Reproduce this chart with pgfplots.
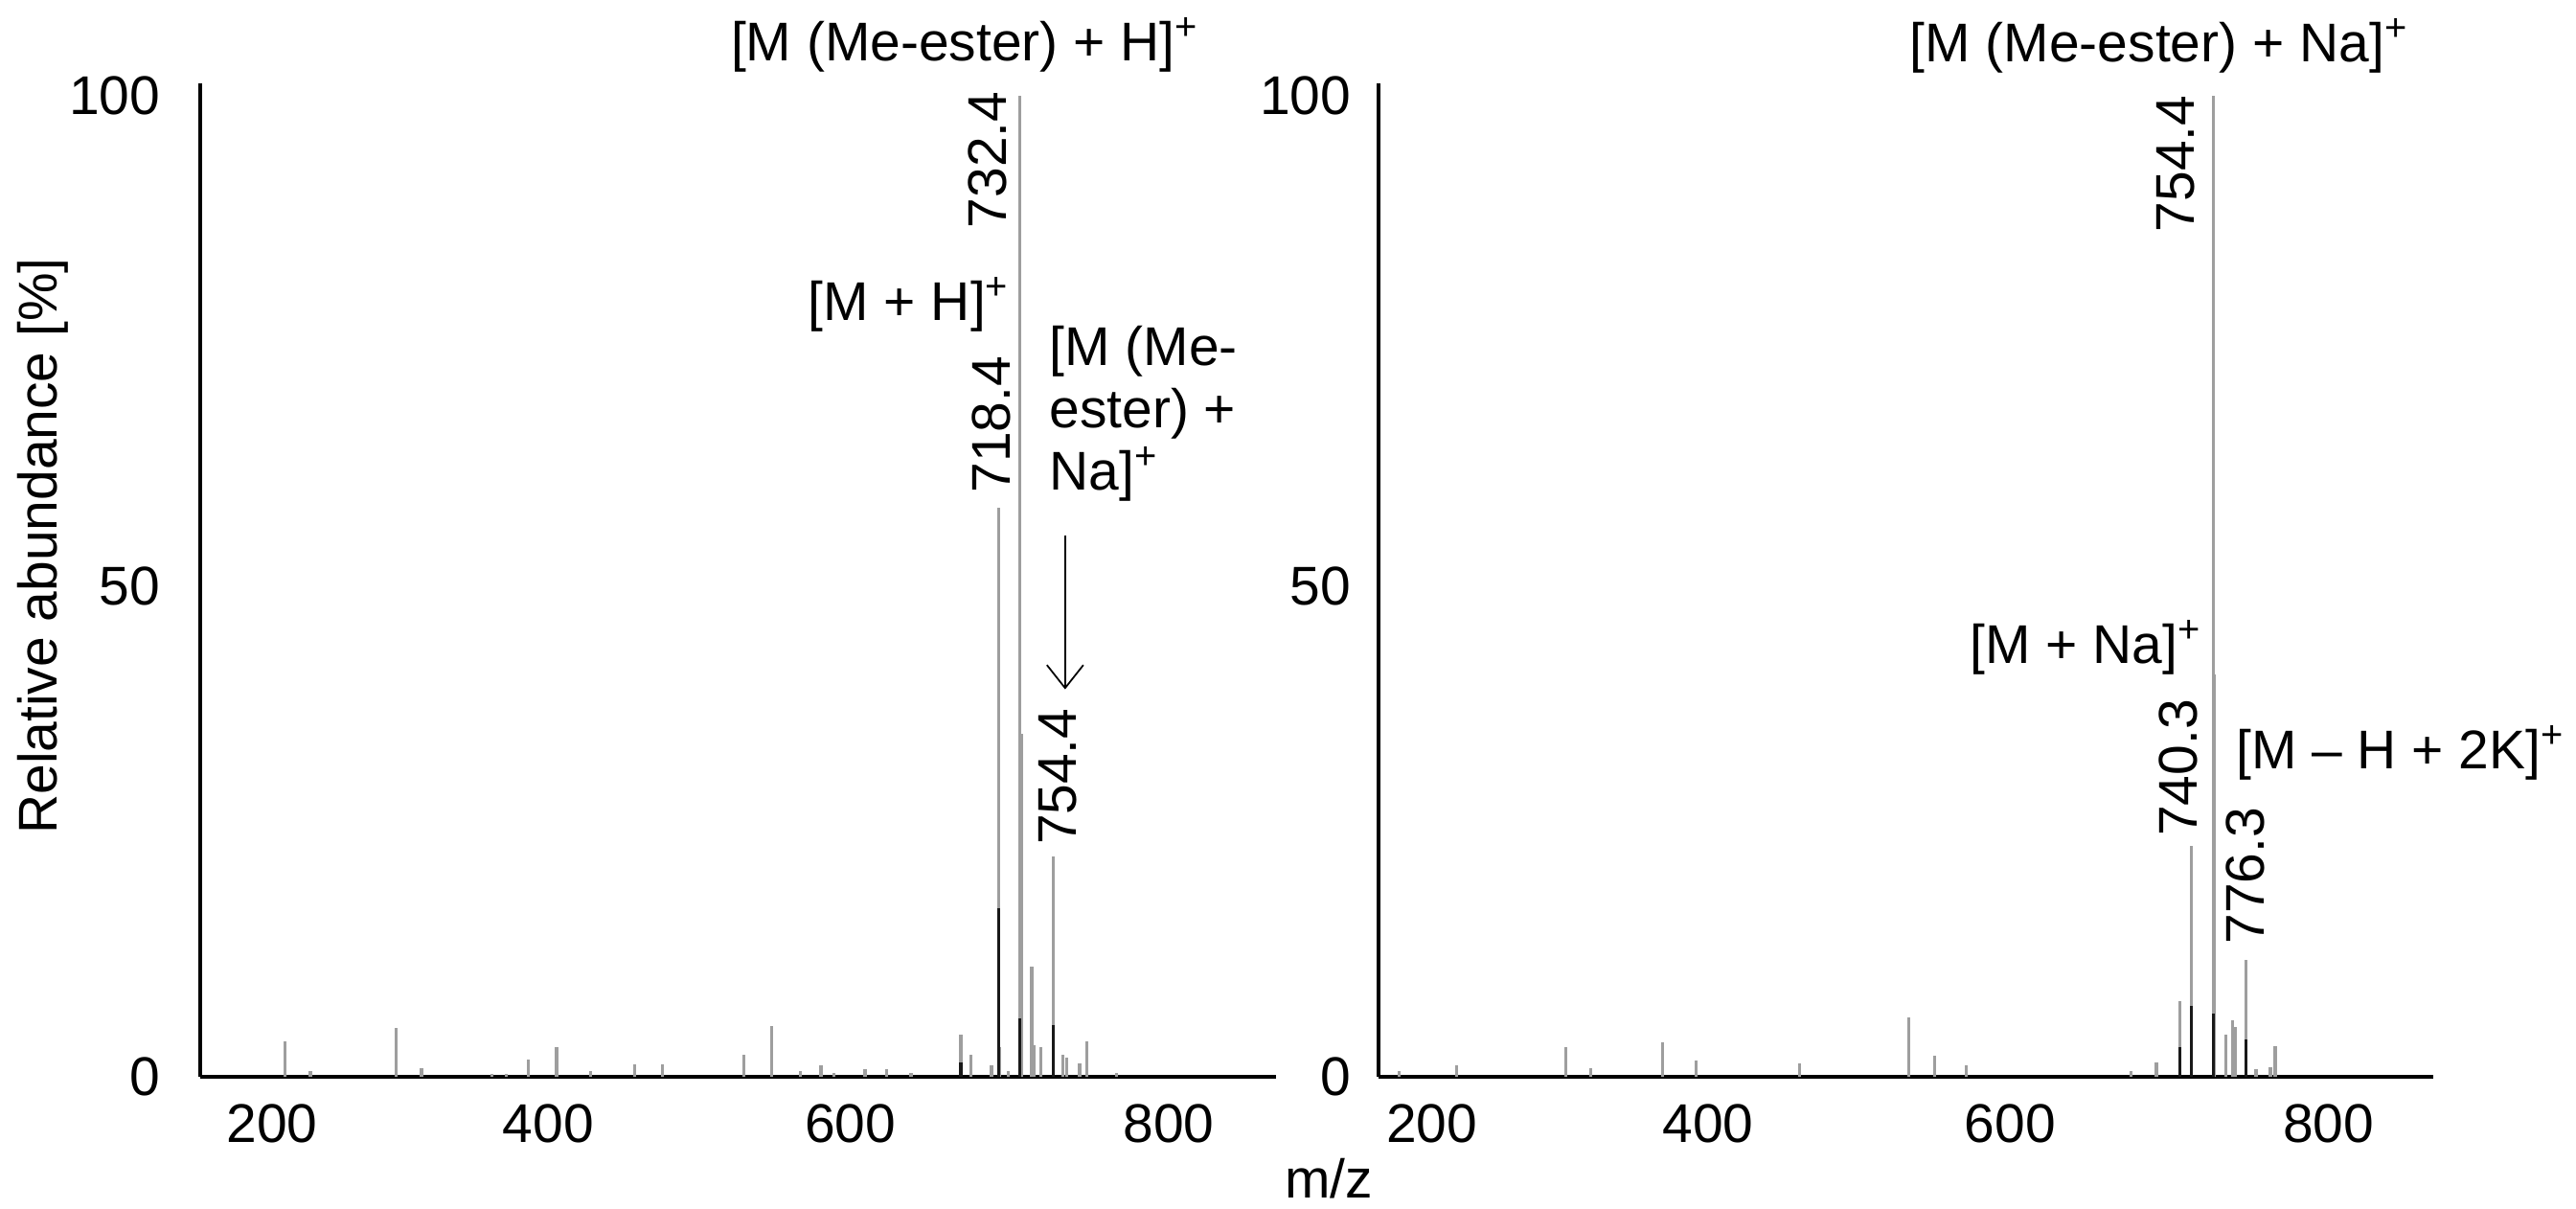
\documentclass[border=0pt]{standalone}
\usepackage{fontspec}
\setmainfont{Liberation Sans}
\usepackage{pgfplots}
\usepackage{pgfplotstable}
\pgfplotsset{compat=1.18}
\usetikzlibrary{arrows.meta}
\newcommand\lf{\fontsize{16.2}{18.5}\selectfont}

\pgfplotstableread{
mz h
245.8 3.6
262.4 0.6
319.0 5.0
336.0 0.9
382.7 0.3
392.4 0.3
406.6 1.8
425.4 3.0
448.2 0.6
477.4 1.25
495.5 1.3
549.3 2.2
568.1 5.2
587.0 0.6
600.6 1.2
609.2 0.4
629.8 0.75
643.9 0.75
660.2 0.4
693.2 4.3
700.0 2.2
713.5 1.2
718.4 58.0
718.9 3.0
724.5 0.6
732.4 100.0
733.4 35.0
740.2 11.2
742.0 3.2
746.4 3.0
754.4 22.5
760.9 2.2
763.4 2.0
771.9 1.4
776.7 3.6
796.1 0.4
}\leftlight
\pgfplotstableread{
mz h
718.4 17.2
732.4 6.0
754.4 5.3
693.2 1.5
}\leftdark

\pgfplotstableread{
mz h
215.3 0.6
253.5 1.2
325.6 3.0
342.0 0.9
390.0 3.5
411.8 1.7
480.6 1.4
552.7 6.1
570.1 2.1
590.9 1.2
700.0 0.6
716.9 1.5
732.2 7.7
740.3 23.5
754.4 100.0
755.4 41.0
762.8 4.3
767.1 5.8
769.1 5.1
776.3 11.9
782.9 0.8
792.4 1.0
795.6 3.1
}\rightlight
\pgfplotstableread{
mz h
732.2 3.0
740.3 7.2
754.4 6.4
776.3 3.8
}\rightdark

\pgfplotsset{spec/.style={
  scale only axis, height=103.7mm, ymin=0, ymax=101.3,
  axis lines=left, axis line style={-, line width=1.3pt, black},
  major tick length=0pt,
  ytick={0,50,100}, yticklabels={0,50,100},
  xtick={237,420,620,831}, xticklabels={200,400,600,800},
  tick label style={font=\lf, text=black},
  xticklabel style={inner sep=0pt, anchor=north, yshift=-2.8mm},
  clip=false,
},
light/.style={ycomb, draw=black!38, line width=0.9pt, mark=none},
dark/.style={ycomb, draw=black!90, line width=0.9pt, mark=none}}

\begin{document}
\begin{tikzpicture}
\useasboundingbox (0,0) rectangle (268.9mm,126.2mm);

\begin{axis}[spec, at={(20.9mm,13.8mm)}, anchor=south west,
  width=112.3mm, xmin=189.4, xmax=902,
  yticklabel style={inner sep=0pt, anchor=east, xshift=-4.1mm}]
\addplot[light] table[x=mz,y=h] {\leftlight};
\addplot[dark] table[x=mz,y=h] {\leftdark};
\node[font=\lf] at (axis cs:696,105.2) {[M (Me-ester) + H]\textsuperscript{+}};
\node[font=\lf, rotate=90, inner sep=0pt] at (axis cs:710.7,93.5) {732.4};
\node[font=\lf, anchor=east, inner sep=0pt] at (axis cs:726,78.7) {[M + H]\textsuperscript{+}};
\node[font=\lf, rotate=90, inner sep=0pt] at (axis cs:713.5,66.5) {718.4};
\node[font=\lf, anchor=north west, align=left, inner sep=0pt] at (axis cs:751.6,76.6) {[M (Me-\\ester) +\\Na]\textsuperscript{+}};
\draw[-{Straight Barb[length=2.4mm,width=3.8mm]}, line width=0.5pt] (axis cs:762.3,55.2) -- (axis cs:762.3,39.5);
\node[font=\lf, rotate=90, inner sep=0pt] at (axis cs:757.5,30.6) {754.4};
\end{axis}

\begin{axis}[spec, at={(143.9mm,13.8mm)}, anchor=south west,
  width=110.1mm, xmin=201.7, xmax=900.3,
  yticklabel style={inner sep=0pt, anchor=east, xshift=-2.8mm}]
\addplot[light] table[x=mz,y=h] {\rightlight};
\addplot[dark] table[x=mz,y=h] {\rightdark};
\node[font=\lf] at (axis cs:718.8,105.1) {[M (Me-ester) + Na]\textsuperscript{+}};
\node[font=\lf, rotate=90, inner sep=0pt] at (axis cs:729.5,93.1) {754.4};
\node[font=\lf, anchor=east, inner sep=0pt] at (axis cs:747.4,43.8) {[M + Na]\textsuperscript{+}};
\node[font=\lf, rotate=90, inner sep=0pt] at (axis cs:731.7,31.5) {740.3};
\node[font=\lf, anchor=west, inner sep=0pt] at (axis cs:769.3,33) {[M – H + 2K]\textsuperscript{+}};
\node[font=\lf, rotate=90, inner sep=0pt] at (axis cs:775.8,20.5) {776.3};
\end{axis}

\node[font=\lf, rotate=90] at (4.5mm,69.2mm) {Relative abundance [\%]};
\node[font=\lf] at (138.7mm,3.2mm) {m/z};
\end{tikzpicture}
\end{document}
